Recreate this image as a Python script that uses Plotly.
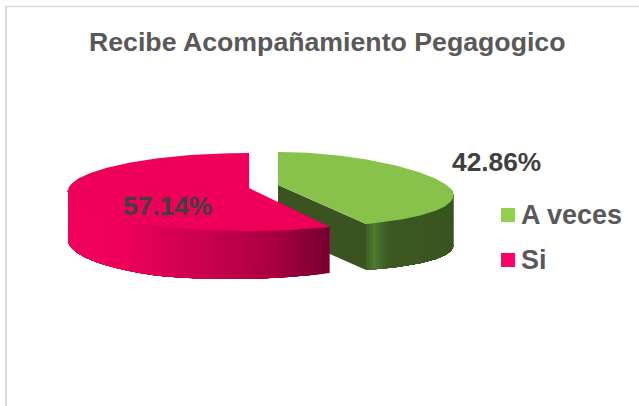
import numpy as np
import plotly.graph_objects as go

# ---- data ----
title_text = "Recibe Acompañamiento Pegagogico"
categories = ["A veces", "Si"]
values = [42.86, 57.14]

# ---- styling / projection of the tilted pie (pixel space) ----
FONT = "Liberation Sans"
W, H = 639, 406
GREEN = dict(cx=278, cy=188, ax=278, ay=185, rx=172, back=36, front=40, k=0.2,
             top="#88C24B", face="#3A5320", wall_deg=[90, 154.3], wall_h=[51, 46],
             stops=[(0, "#3E5C24"), (0.06, "#466A2A"), (0.11, "#4F7A2F"), (0.2, "#446628"),
                    (0.27, "#3C5922"), (1, "#3A5421")])
RED = dict(cx=249, cy=190, ax=249, ay=188, rx=181, back=37, front=41, k=0.03,
           top="#EE005A", face="#7A0030", wall_deg=[154.3, 210, 270], wall_h=[46, 50, 48],
           stops=[(0, "#F0005C"), (0.2, "#EE005A"), (0.55, "#C80050"), (0.8, "#A8003F"), (1, "#780030")])
LEG_COLORS = ["#92D050", "#FF0066"]


def hex2rgb(h):
    return np.array([int(h[i:i + 2], 16) for i in (1, 3, 5)], float)


def ramp(stops, t):
    ts = [s[0] for s in stops]
    cs = np.array([hex2rgb(s[1]) for s in stops])
    c = [np.interp(t, ts, cs[:, i]) for i in range(3)]
    return "rgb(%d,%d,%d)" % tuple(int(round(v)) for v in c)


def rim(p, deg):
    th = np.radians(deg)
    s, c = np.sin(th), np.cos(th)
    ry = np.where(c > 0, p["back"], p["front"])
    return p["cx"] + p["rx"] * s * (1 - p["k"] * c), p["cy"] - ry * c


fig = go.Figure()


def poly(x, y, color):
    fig.add_trace(go.Scatter(x=list(x), y=list(y), mode="lines", fill="toself", fillcolor=color,
                             line=dict(color=color, width=0), showlegend=False, hoverinfo="skip"))


def draw_slice(p, a0, a1, side_from, side_to):
    """top surface between angles a0..a1, outer wall between side_from..side_to"""
    tip_angle = a1 if p is GREEN else a0
    tipx, tipy = rim(p, tip_angle)
    if p is GREEN:
        h = np.interp(tip_angle, p["wall_deg"], p["wall_h"])
        poly([p["ax"], tipx, tipx, p["ax"]], [p["ay"], tipy, tipy + h, p["ay"] + h], p["face"])
    edges = np.linspace(side_from, side_to, 61)
    xs_all = rim(p, edges)[0]
    # painter's algorithm: every strip reaches to the far end of the wall, so no seams show
    for a in edges[:-1]:
        aa = np.linspace(a, side_to, 80)
        x, y = rim(p, aa)
        h = np.interp(aa, sorted(p["wall_deg"]), p["wall_h"])
        xm = (x[0] - xs_all.min()) / (xs_all.max() - xs_all.min())
        poly(np.r_[x, x[::-1]], np.r_[y, (y + h)[::-1]], ramp(p["stops"], xm))
    aa = np.linspace(a0, a1, 160)
    x, y = rim(p, aa)
    poly(np.r_[p["ax"], x, p["ax"]], np.r_[p["ay"], y, p["ay"]], p["top"])


shares = np.array(values) / sum(values) * 360
boundary = shares[0]
draw_slice(GREEN, 0, boundary, 90, boundary)
draw_slice(RED, boundary, 360, boundary, 270)

# legend swatches
leg_y = [215, 260]
fig.add_trace(go.Scatter(x=[508, 508], y=leg_y, mode="markers",
                         marker=dict(symbol="square", size=14, color=LEG_COLORS, line=dict(width=0)),
                         showlegend=False, hoverinfo="skip"))

ann = [
    dict(x=327, y=42, text="<b>%s</b>" % title_text, font=dict(size=26.7, color="#595959", family=FONT)),
    dict(x=496, y=162, text="<b>%.2f%%</b>" % values[0], font=dict(size=26.3, color="#404040", family=FONT)),
    dict(x=167, y=206, text="<b>%.2f%%</b>" % values[1], font=dict(size=26.3, color="#404040", family=FONT)),
]
for name, yy in zip(categories, leg_y):
    ann.append(dict(x=519, y=yy, xanchor="left", text="<b>%s</b>" % name,
                    font=dict(size=27, color="#595959", family=FONT)))
for a in ann:
    a.update(xref="x", yref="y", showarrow=False)
    a.setdefault("xanchor", "center")
    a["yanchor"] = "middle"

fig.update_layout(
    width=W, height=H, margin=dict(l=0, r=0, t=0, b=0, pad=0),
    paper_bgcolor="white", plot_bgcolor="white", showlegend=False,
    xaxis=dict(range=[0, W], visible=False, fixedrange=True),
    yaxis=dict(range=[H, 0], visible=False, fixedrange=True),
    annotations=ann,
    shapes=[
        dict(type="line", xref="x", yref="y", x0=6, x1=6, y0=6, y1=H, line=dict(color="#D9D9D9", width=2)),
        dict(type="line", xref="x", yref="y", x0=5, x1=W, y0=6.5, y1=6.5, line=dict(color="#D9D9D9", width=1.5)),
    ],
)
fig.write_html("out.html", config=dict(displayModeBar=False),
               post_script="document.body.style.margin='0';document.body.style.overflow='hidden';")
